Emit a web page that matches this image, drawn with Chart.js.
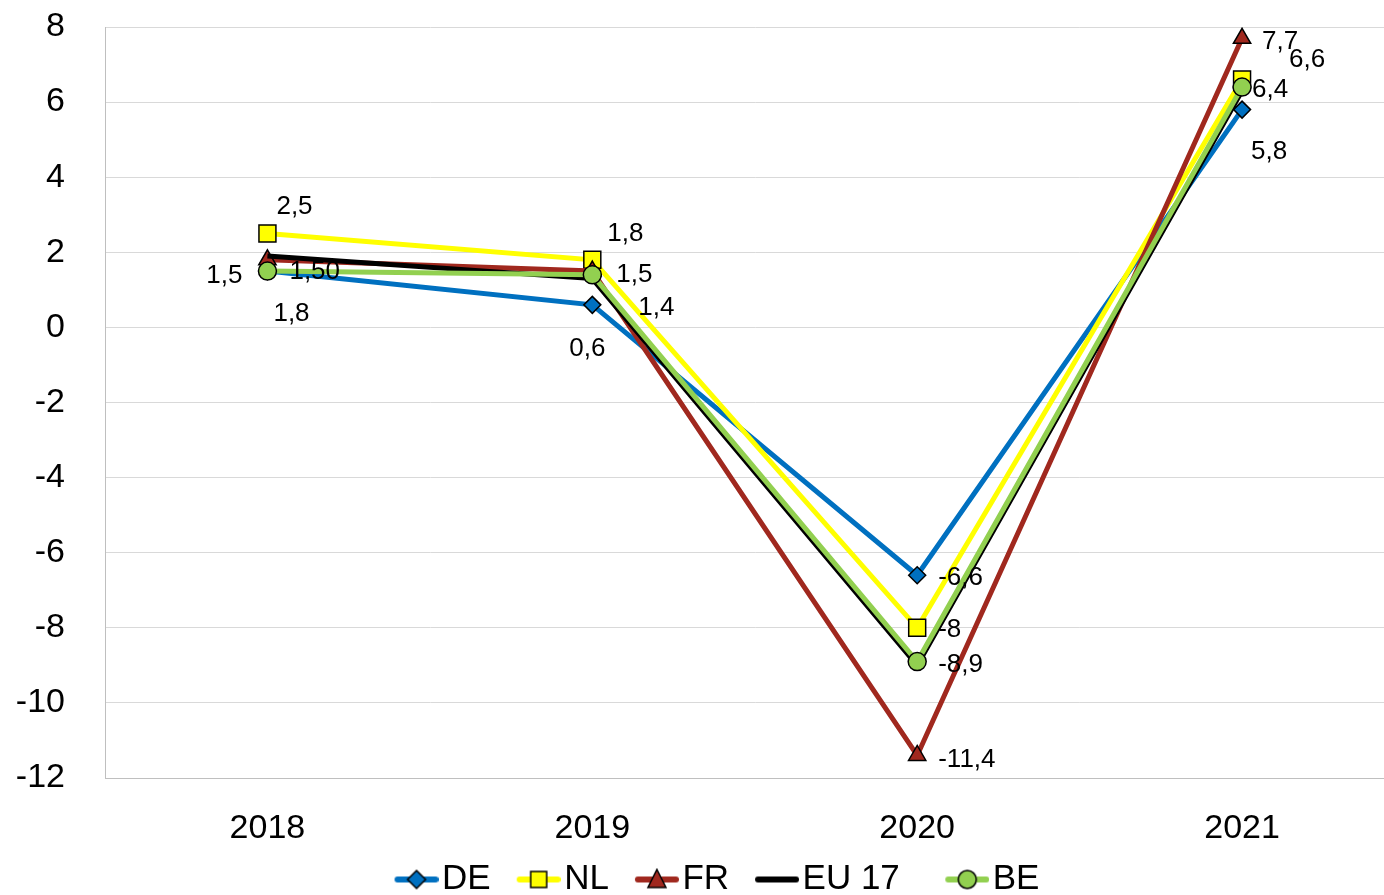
<!DOCTYPE html>
<html>
<head>
<meta charset="utf-8">
<script src="https://cdn.jsdelivr.net/npm/chart.js@4"></script>
<style>
  html, body { margin: 0; padding: 0; background: #fff; overflow: hidden; }
  #wrap { width: 1418px; height: 907px; }
</style>
</head>
<body>
<div id="wrap"><canvas id="lineChart"></canvas></div>
<script>
// data
const years = ["2018", "2019", "2020", "2021"];
const de = [1.5, 0.6, -6.6, 5.8];
const nl = [2.5, 1.8, -8, 6.6];
const fr = [1.8, 1.5, -11.4, 7.7];
const eu17 = [1.9, 1.3, -9.0, 6.3];
const be = [1.5, 1.4, -8.9, 6.4];
const yTicks = [8, 6, 4, 2, 0, -2, -4, -6, -8, -10, -12];

// value labels as printed in the chart
const deLabels = ["1,5", "0,6", "-6,6", "5,8"];
const nlLabels = ["2,5", "1,8", "-8", "6,6"];
const frLabels = ["1,8", "1,5", "-11,4", "7,7"];
const beLabels = ["1,50", "1,4", "-8,9", "6,4"];

// label placement relative to each point [dx, dy, align]
const labelPos = {
    DE: [[-25, 5, "right"], [-23, 44, "left"], [21, 3, "left"], [9, 42, "left"]],
    NL: [[9, -27, "left"], [15, -26, "left"], [21, 2, "left"], [47, -20, "left"]],
    FR: [[6, 54, "left"], [24, 4, "left"], [21, 4, "left"], [20, 4, "left"]],
    BE: [[22, 1, "left"], [46, 33, "left"], [21, 3, "left"], [10, 3, "left"]]
};

const FONT = "'Liberation Sans', Arial, sans-serif";

// legend icon: line with marker, drawn in the right 44px of a 74px canvas
function legendIcon(color, style, fill) {
    const c = document.createElement("canvas");
    c.width = 74; c.height = 24;
    const g = c.getContext("2d");
    const x0 = 30, cx = x0 + 22, cy = 12;
    g.strokeStyle = color; g.lineWidth = 6; g.lineCap = "round";
    g.beginPath(); g.moveTo(x0 + 3, cy); g.lineTo(x0 + 41, cy); g.stroke();
    g.fillStyle = fill; g.strokeStyle = "#000"; g.lineWidth = 1.5;
    g.beginPath();
    if (style === "rectRot") {
        g.moveTo(cx, cy - 9); g.lineTo(cx + 9, cy); g.lineTo(cx, cy + 9); g.lineTo(cx - 9, cy); g.closePath();
    } else if (style === "rect") {
        g.rect(cx - 8, cy - 8, 16, 16);
    } else if (style === "triangle") {
        g.moveTo(cx, cy - 10); g.lineTo(cx + 9, cy + 8); g.lineTo(cx - 9, cy + 8); g.closePath();
    } else if (style === "circle") {
        g.arc(cx, cy, 9, 0, Math.PI * 2);
    } else {
        return c;
    }
    g.fill(); g.stroke();
    return c;
}

const valueLabels = {
    id: "valueLabels",
    afterDatasetsDraw(chart) {
        const ctx = chart.ctx;
        ctx.save();
        ctx.font = "26px " + FONT;
        ctx.fillStyle = "#000";
        ctx.textBaseline = "middle";
        chart.data.datasets.forEach((ds, i) => {
            if (!ds.valueText) return;
            const meta = chart.getDatasetMeta(i);
            meta.data.forEach((pt, j) => {
                const p = labelPos[ds.label][j];
                ctx.textAlign = p[2];
                ctx.fillText(ds.valueText[j], pt.x + p[0], pt.y + p[1]);
            });
        });
        ctx.restore();
    }
};

const series = [
    { label: "DE", data: de, valueText: deLabels, color: "#0070C0", style: "rectRot", r: 8.5 },
    { label: "NL", data: nl, valueText: nlLabels, color: "#FFFF00", style: "rect", r: 12 },
    { label: "FR", data: fr, valueText: frLabels, color: "#A0281E", style: "triangle", r: 10 },
    { label: "EU 17", data: eu17, valueText: null, color: "#000000", style: "line", r: 0 },
    { label: "BE", data: be, valueText: beLabels, color: "#92D050", style: "circle", r: 9 }
];

new Chart(document.getElementById("lineChart"), {
    type: "line",
    data: {
        labels: years,
        datasets: series.map((s, i) => ({
            label: s.label,
            data: s.data,
            valueText: s.valueText,
            borderColor: s.color,
            backgroundColor: s.color,
            borderWidth: 5,
            tension: 0,
            pointStyle: s.r ? s.style : false,
            pointRadius: s.r,
            pointHoverRadius: s.r,
            pointBackgroundColor: s.color,
            pointBorderColor: "#000",
            pointBorderWidth: 1.5,
            order: series.length - i,
            icon: legendIcon(s.color, s.style, s.color)
        }))
    },
    options: {
        responsive: true,
        maintainAspectRatio: false,
        animation: false,
        layout: { padding: { top: 27, right: 0, left: 0, bottom: 0 } },
        scales: {
            x: {
                offset: true,
                afterFit(scale) { scale.height = 74; },
                grid: { display: false, drawTicks: false },
                border: { display: true, color: "#bfbfbf", width: 1 },
                ticks: { color: "#000", font: { size: 34, family: FONT }, padding: 30 }
            },
            y: {
                min: -12,
                max: 8,
                afterBuildTicks(scale) { scale.ticks = yTicks.map(v => ({ value: v })); },
                afterFit(scale) { scale.width = 105; scale.paddingTop = 0; scale.paddingBottom = 0; },
                grid: { color: "#d9d9d9", lineWidth: 1, drawTicks: false },
                border: { display: true, color: "#bfbfbf", width: 1 },
                ticks: { color: "#000", font: { size: 34, family: FONT }, padding: 40 }
            }
        },
        plugins: {
            tooltip: { enabled: false },
            legend: {
                position: "bottom",
                align: "center",
                labels: {
                    color: "#000",
                    font: { size: 35, family: FONT },
                    usePointStyle: true,
                    pointStyleWidth: 46,
                    padding: 10,
                    generateLabels(chart) {
                        return chart.data.datasets.map((ds, i) => ({
                            // a little extra room after "EU 17", as in the original legend
                            text: ds.label === "EU 17" ? ds.label + "  " : ds.label,
                            pointStyle: ds.icon,
                            fontColor: "#000",
                            lineWidth: 0,
                            hidden: false,
                            datasetIndex: i
                        }));
                    }
                }
            }
        }
    },
    plugins: [valueLabels]
});
</script>
</body>
</html>
